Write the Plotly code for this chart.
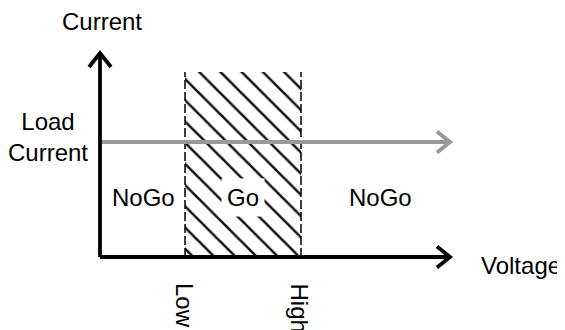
import plotly.graph_objects as go

# ---- data (diagram units: 1 unit ~ 10 px, origin at axes corner) ----
voltage_axis_end = 35.0
current_axis_end = 20.4
low_voltage = 8.5
high_voltage = 20.1
load_current = 11.5
go_band_top = 18.5

region_labels = ["NoGo", "Go", "NoGo"]
region_label_x = [4.3, 14.3, 28.0]
region_label_y = 6.0

FONT = "Arial, Liberation Sans, sans-serif"
BLACK = "#000000"
GRAY = "#999999"

fig = go.Figure()

# hatched Go band
fig.add_trace(go.Scatter(
    x=[low_voltage, high_voltage, high_voltage, low_voltage, low_voltage],
    y=[0, 0, go_band_top, go_band_top, 0],
    mode="lines", line=dict(width=0), fill="toself",
    fillcolor="white",
    fillpattern=dict(shape="\\", size=15, solidity=0.17, fgcolor="#111111",
                     fgopacity=1, bgcolor="white"),
    hoverinfo="skip", showlegend=False))

# dashed borders
for xv in [low_voltage, high_voltage]:
    fig.add_trace(go.Scatter(x=[xv, xv], y=[0, go_band_top], mode="lines",
                             line=dict(color=BLACK, width=1.5, dash="9px,3px"),
                             hoverinfo="skip", showlegend=False))

def arrow(x0, y0, x1, y1, color, width, hl, hw, horizontal):
    fig.add_trace(go.Scatter(x=[x0, x1], y=[y0, y1], mode="lines",
                             line=dict(color=color, width=width),
                             hoverinfo="skip", showlegend=False))
    if horizontal:
        hx = [x1 - hl, x1, x1 - hl]
        hy = [y1 + hw, y1, y1 - hw]
    else:
        hx = [x1 - hw, x1, x1 + hw]
        hy = [y1 - hl, y1, y1 - hl]
    fig.add_trace(go.Scatter(x=hx, y=hy, mode="lines",
                             line=dict(color=color, width=width),
                             hoverinfo="skip", showlegend=False))

# load current line (gray)
arrow(0, load_current, voltage_axis_end, load_current, GRAY, 4, 1.3, 1.05, True)
# axes
arrow(0, 0, voltage_axis_end, 0, BLACK, 3.8, 1.3, 1.05, True)
arrow(0, 0, 0, current_axis_end, BLACK, 3.8, 1.4, 1.1, False)

fs = 24
ann = []
def label(text, x, y, angle=0, bg=None, pad=1):
    d = dict(x=x, y=y, xref="x", yref="y", text=text, showarrow=False,
             font=dict(family=FONT, size=fs, color=BLACK),
             xanchor="center", yanchor="middle", textangle=angle, borderpad=pad)
    if bg:
        d["bgcolor"] = bg
    ann.append(d)

label("Current", 0.2, 23.6)
label("Load<br>Current", -5.2, 12.0)
for t, xv in zip(region_labels, region_label_x):
    label(t, xv, region_label_y, bg="white" if t == "Go" else None, pad=5 if t == "Go" else 1)
label("Voltage", 42.1, -0.8)
label("Low", low_voltage, -4.8, angle=90)
label("High", high_voltage - 0.2, -5.05, angle=90)

# page body has an 8px margin, so the figure is drawn from (8, 8) to (565, 330)
fig.update_layout(
    width=557, height=322,
    margin=dict(l=0, r=0, t=0, b=0),
    paper_bgcolor="white", plot_bgcolor="white",
    xaxis=dict(range=[-9.2, 46.5], visible=False, fixedrange=True),
    yaxis=dict(range=[-7.3, 24.9], visible=False, fixedrange=True),
    annotations=ann, showlegend=False,
)

fig.write_html("out.html")
